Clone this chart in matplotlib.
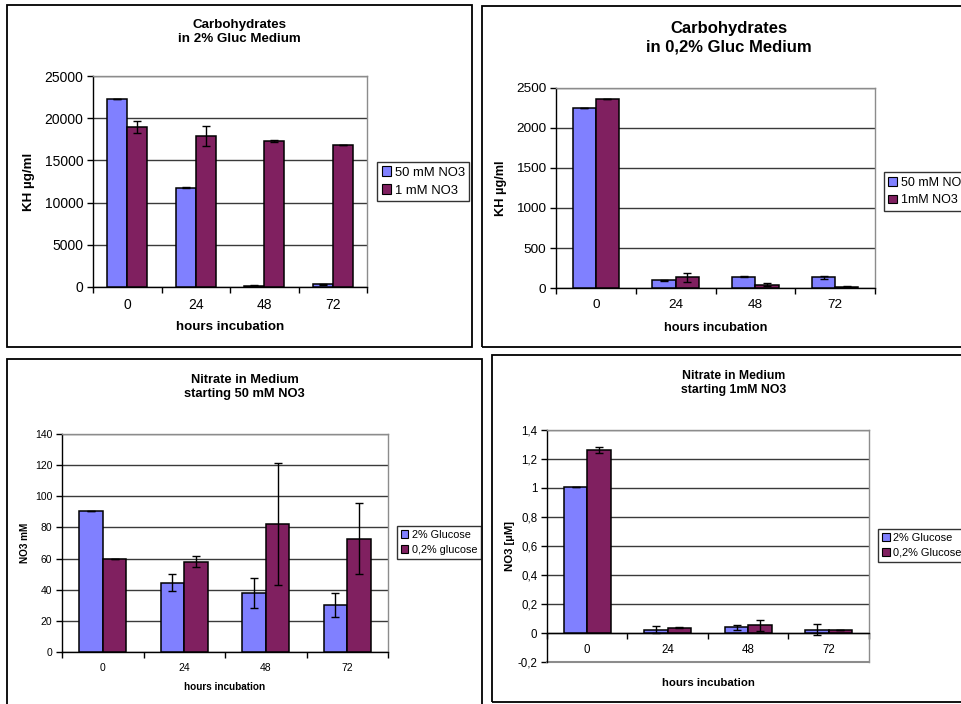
import matplotlib
matplotlib.use("Agg")
import matplotlib.pyplot as plt
import numpy as np
from matplotlib.patches import Rectangle

plt.rcParams['font.family'] = ['Liberation Sans', 'DejaVu Sans']

W, H = 962, 704

hours = ["0", "24", "48", "72"]

# Panel 1: Carbohydrates in 2% Gluc Medium
p1_title = "Carbohydrates\nin 2% Gluc Medium"
p1_series = ["50 mM NO3", "1 mM NO3"]
p1_a = [22300, 11780, 170, 320]
p1_a_err = [0, 100, 60, 60]
p1_b = [18950, 17850, 17280, 16810]
p1_b_err = [700, 1200, 120, 0]
p1_yticks = [0, 5000, 10000, 15000, 20000, 25000]
p1_ylabels = ["0", "5000", "10000", "15000", "20000", "25000"]

# Panel 2: Carbohydrates in 0,2% Gluc Medium
p2_title = "Carbohydrates\nin 0,2% Gluc Medium"
p2_series = ["50 mM NO3", "1mM NO3"]
p2_a = [2250, 96, 142, 134]
p2_a_err = [0, 8, 10, 18]
p2_b = [2362, 134, 42, 17]
p2_b_err = [0, 58, 15, 4]
p2_yticks = [0, 500, 1000, 1500, 2000, 2500]
p2_ylabels = ["0", "500", "1000", "1500", "2000", "2500"]

# Panel 3: Nitrate in Medium starting 50 mM NO3
p3_title = "Nitrate in Medium\nstarting 50 mM NO3"
p3_series = ["2% Glucose", "0,2% glucose"]
p3_a = [90.7, 44.6, 37.9, 30.4]
p3_a_err = [0, 5.7, 9.8, 7.7]
p3_b = [60.0, 58.1, 82.3, 72.7]
p3_b_err = [0, 3.6, 39.2, 22.8]
p3_yticks = [0, 20, 40, 60, 80, 100, 120, 140]
p3_ylabels = ["0", "20", "40", "60", "80", "100", "120", "140"]

# Panel 4: Nitrate in Medium starting 1mM NO3
p4_title = "Nitrate in Medium\nstarting 1mM NO3"
p4_series = ["2% Glucose", "0,2% Glucose"]
p4_a = [1.006, 0.023, 0.039, 0.023]
p4_a_err = [0, 0.025, 0.019, 0.04]
p4_b = [1.264, 0.037, 0.053, 0.023]
p4_b_err = [0.021, 0.002, 0.037, 0]
p4_yticks = [-0.2, 0, 0.2, 0.4, 0.6, 0.8, 1.0, 1.2, 1.4]
p4_ylabels = ["-0,2", "0", "0,2", "0,4", "0,6", "0,8", "1", "1,2", "1,4"]

C1 = "#8080FF"
C2 = "#802060"
GRID = "#3a3a3a"
BORDER = "#8c8c8c"

fig = plt.figure(figsize=(W / 100, H / 100), dpi=100)


def fx(x):
    return x / W


def fy(y):
    return 1 - y / H


def add_axes_px(x0, y0, x1, y1):
    return fig.add_axes([fx(x0), fy(y1), (x1 - x0) / W, (y1 - y0) / H])


def panel_border(x0, y0, x1, y1):
    r = Rectangle((fx(x0), fy(y1)), (x1 - x0) / W, (y1 - y0) / H,
                  transform=fig.transFigure, fill=False, edgecolor="black",
                  linewidth=1.3, zorder=0)
    fig.patches.append(r)


def draw_panel(box, axbox, title, tsize, title_y, a, aerr, b, berr, series,
               yticks, ylabels, ylabel, ylx, tick_fs, xlabel, xly, xl_fs,
               leg_box, leg_fs, zero_axis=False):
    panel_border(*box)
    ax = add_axes_px(*axbox)
    x = np.arange(len(hours))
    w = 0.29
    ax.bar(x - w / 2, a, w, color=C1, edgecolor="black", linewidth=1.1,
           zorder=3, label=series[0])
    ax.bar(x + w / 2, b, w, color=C2, edgecolor="black", linewidth=1.1,
           zorder=3, label=series[1])
    ax.errorbar(x - w / 2, a, yerr=aerr, fmt="none", ecolor="black",
                elinewidth=1.0, capsize=3, capthick=1.0, zorder=4)
    ax.errorbar(x + w / 2, b, yerr=berr, fmt="none", ecolor="black",
                elinewidth=1.0, capsize=3, capthick=1.0, zorder=4)
    ax.set_xlim(-0.5, len(hours) - 0.5)
    ax.set_ylim(yticks[0], yticks[-1])
    ax.set_yticks(yticks)
    ax.set_yticklabels(ylabels)
    ax.set_xticks(np.arange(len(hours) + 1) - 0.5)
    ax.set_xticklabels([])
    ax.set_xticks(x, minor=True)
    ax.set_xticklabels(hours, minor=True)
    ax.tick_params(axis="x", which="major", direction="out", length=4,
                   width=1, color="black")
    ax.tick_params(axis="x", which="minor", length=0, labelsize=tick_fs,
                   pad=8)
    ax.tick_params(axis="y", direction="out", length=4, width=1,
                   labelsize=tick_fs, pad=3)
    ax.yaxis.grid(True, color=GRID, linewidth=1.0, zorder=1)
    ax.set_axisbelow(True)
    for s in ["top", "right"]:
        ax.spines[s].set_color(BORDER)
        ax.spines[s].set_linewidth(1.0)
    ax.spines["left"].set_color("black")
    ax.spines["left"].set_linewidth(1.0)
    ax.spines["bottom"].set_color("black")
    ax.spines["bottom"].set_linewidth(1.0)
    if zero_axis:
        ax.spines["bottom"].set_position(("data", 0))
        ax.axhline(yticks[0], color=BORDER, linewidth=1.5, clip_on=False,
                   zorder=2)
    ax.set_facecolor("white")
    # title
    cx = (box[0] + min(box[2], 976)) / 2
    fig.text(fx(cx), fy(title_y), title, ha="center", va="center",
             fontsize=tsize, fontweight="bold", linespacing=1.25)
    # x label
    fig.text(fx((axbox[0] + axbox[2]) / 2), fy(xly), xlabel, ha="center",
             va="center", fontsize=xl_fs, fontweight="bold")
    # y label
    fig.text(fx(ylx), fy((axbox[1] + axbox[3]) / 2), ylabel, ha="center",
             va="center", rotation=90, fontsize=xl_fs, fontweight="bold")
    # legend
    lx0, ly0, lx1, ly1 = leg_box
    handles = [Rectangle((0, 0), 1, 1, facecolor=C1, edgecolor="black",
                         linewidth=0.8),
               Rectangle((0, 0), 1, 1, facecolor=C2, edgecolor="black",
                         linewidth=0.8)]
    leg = fig.legend(handles, series, loc="center left",
                     bbox_to_anchor=(fx(lx0), fy((ly0 + ly1) / 2)),
                     fontsize=leg_fs, frameon=True, fancybox=False,
                     edgecolor="black", handlelength=0.7, handleheight=0.7,
                     handletextpad=0.3, borderpad=0.35, labelspacing=0.45,
                     borderaxespad=0)
    leg.get_frame().set_linewidth(1.0)
    return ax


draw_panel((7, 5, 472, 347), (93, 76, 367, 287), p1_title, 9.6, 32,
           p1_a, p1_a_err, p1_b, p1_b_err, p1_series, p1_yticks, p1_ylabels,
           "KH µg/ml", 29, 10, "hours incubation", 327, 9.6,
           (377, 163, 468, 200), 9.4)

draw_panel((482, 6, 990, 347), (556, 88, 875, 288), p2_title, 12, 38,
           p2_a, p2_a_err, p2_b, p2_b_err, p2_series, p2_yticks, p2_ylabels,
           "KH µg/ml", 501, 9.7, "hours incubation", 328, 9.2,
           (884, 176, 990, 207), 9.0)

draw_panel((7, 359, 482, 720), (62, 434, 388, 652), p3_title, 9.3, 387,
           p3_a, p3_a_err, p3_b, p3_b_err, p3_series, p3_yticks, p3_ylabels,
           "NO3 mM", 25, 7.5, "hours incubation", 687, 7.2,
           (397, 524, 478, 561), 7.8)

draw_panel((492, 355, 990, 702), (547, 430, 869, 662), p4_title, 8.8, 383,
           p4_a, p4_a_err, p4_b, p4_b_err, p4_series, p4_yticks, p4_ylabels,
           "NO3 [µM]", 510, 8.3, "hours incubation", 683, 8.2,
           (878, 527, 990, 564), 7.9, zero_axis=True)

fig.savefig("out.png", dpi=100, facecolor="white")
